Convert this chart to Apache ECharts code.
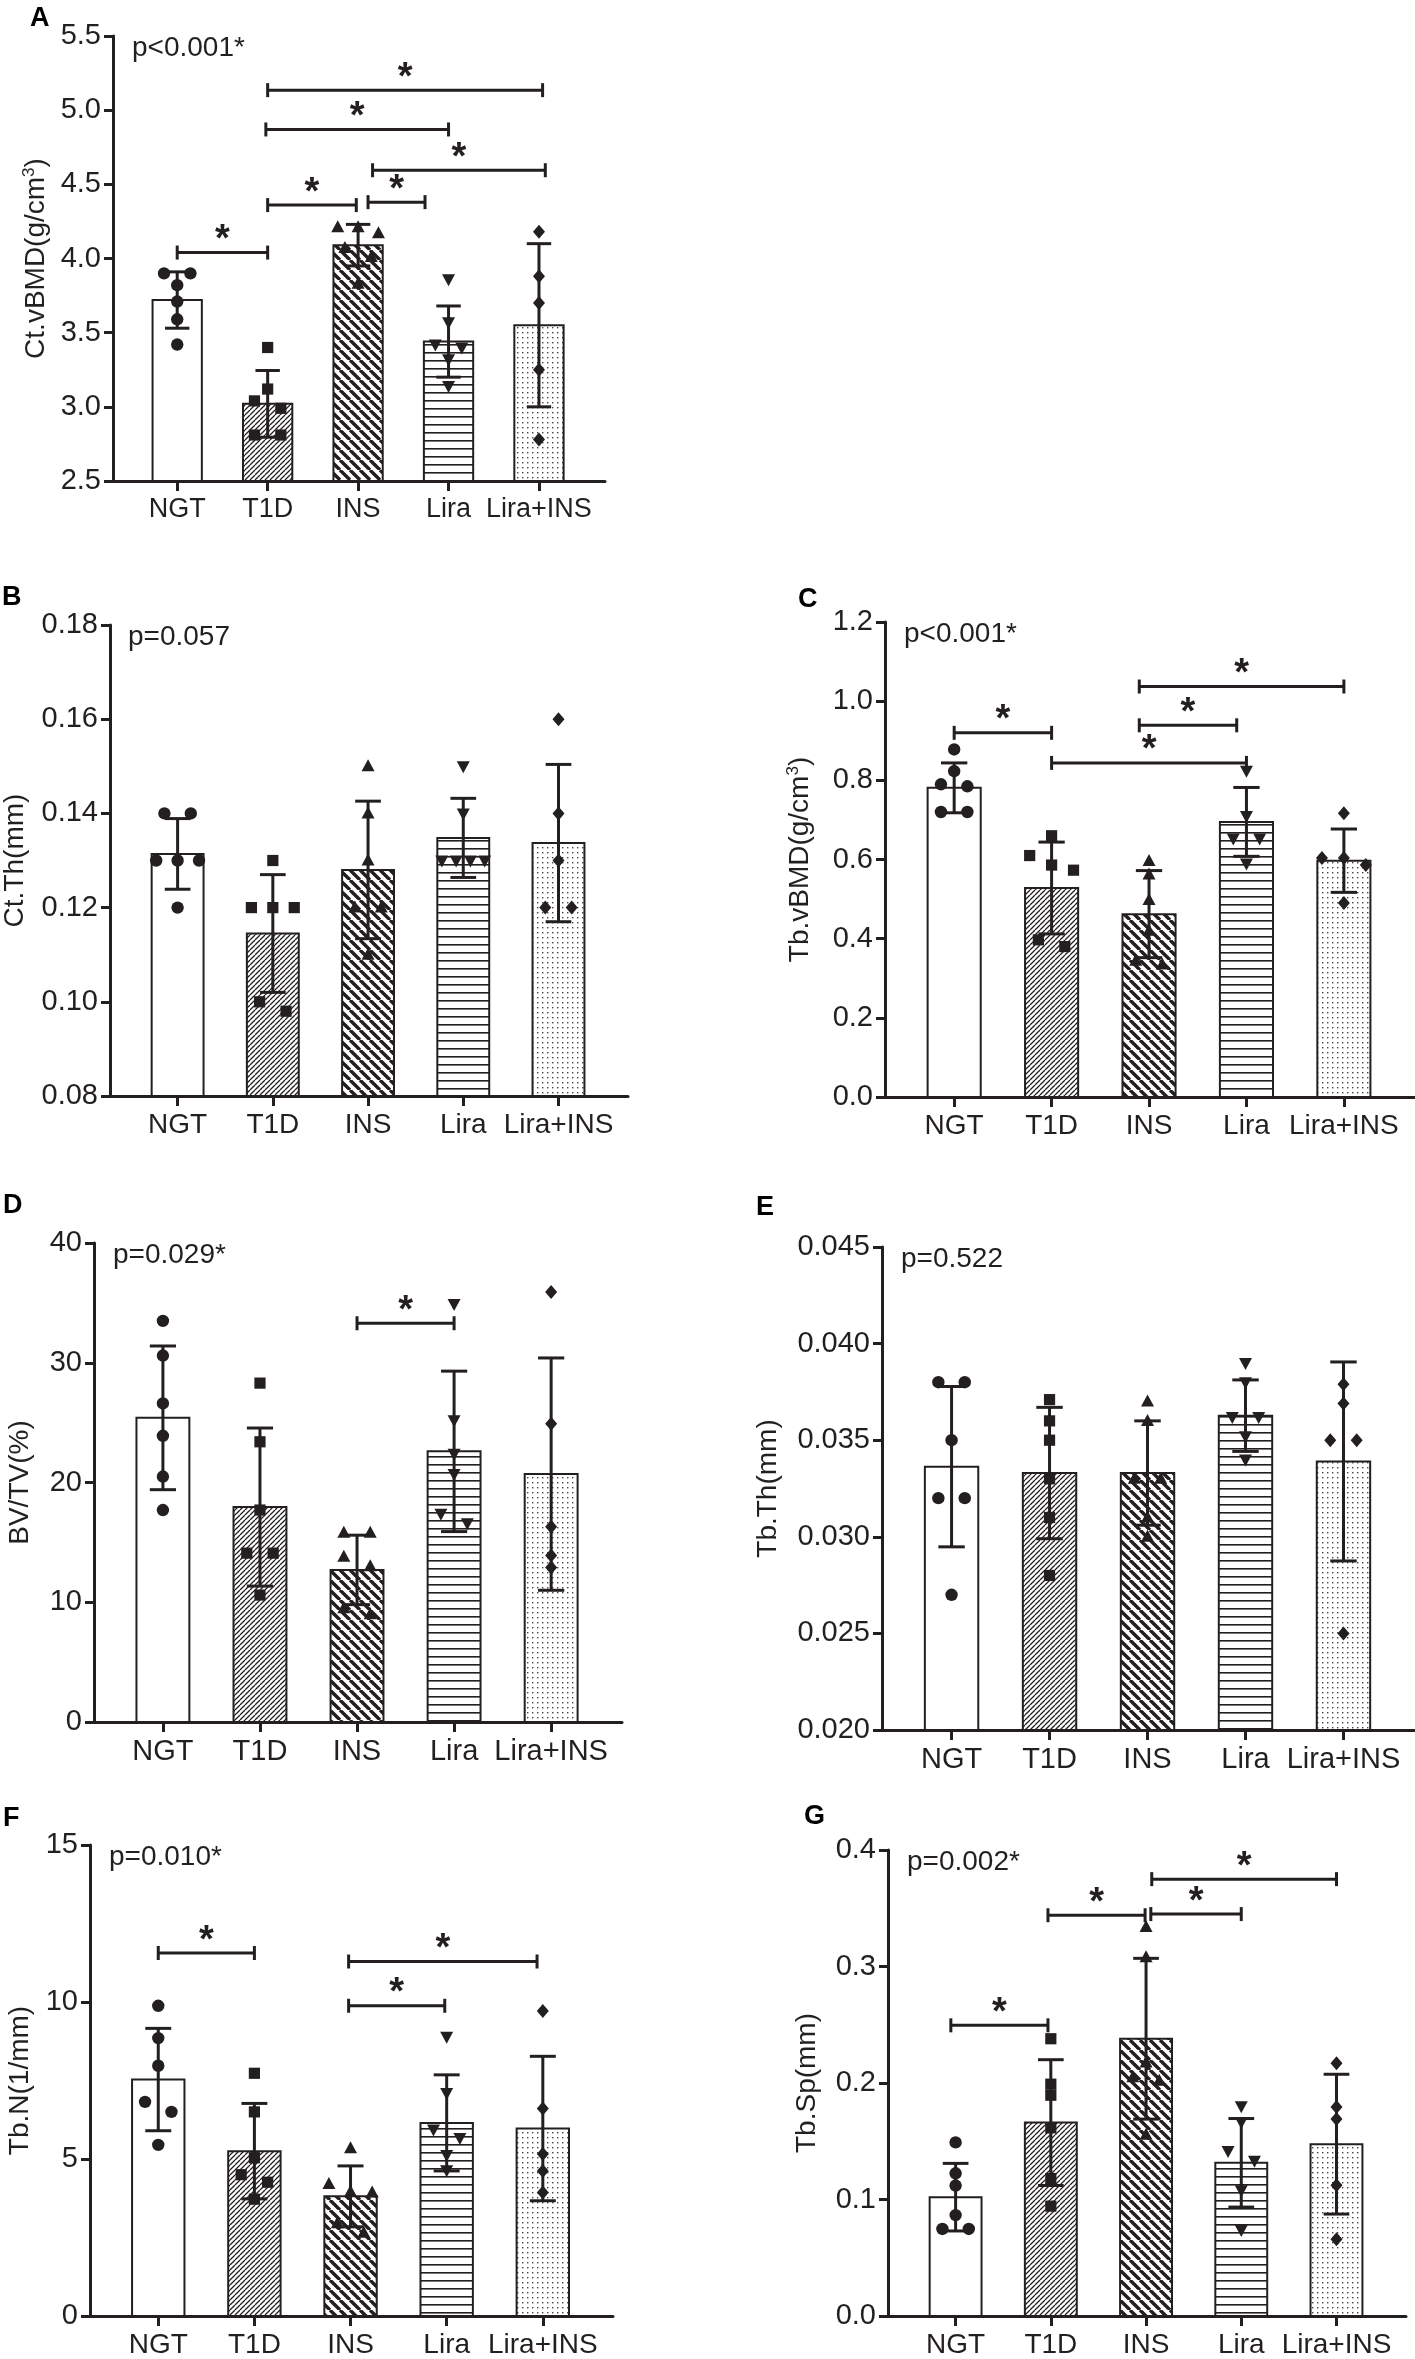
<!DOCTYPE html>
<html>
<head>
<meta charset="utf-8">
<title>Bone parameters by group</title>
<script src="https://cdn.jsdelivr.net/npm/echarts@6/dist/echarts.min.js"></script>
<style>
  html, body { margin: 0; padding: 0; background: #fff; }
  #chart { width: 1415px; height: 2359px; }
</style>
</head>
<body>
<div id="chart"></div>
<script>
// groups on the x axis
var groups = ['NGT', 'T1D', 'INS', 'Lira', 'Lira+INS'];

// A: Ct.vBMD
var ctVbmdTicks = [2.5, 3.0, 3.5, 4.0, 4.5, 5.0, 5.5];
var ctVbmdMean = [3.72, 3.02, 4.09, 3.44, 3.55];
var ctVbmdSd = [0.19, 0.225, 0.14, 0.24, 0.55];
var ctVbmdPoints = [
    [3.90, 3.90, 3.82, 3.71, 3.59, 3.42],
    [3.40, 3.12, 3.04, 2.99, 2.81, 2.81],
    [4.21, 4.21, 4.17, 4.07, 4.01, 3.83],
    [3.86, 3.57, 3.42, 3.40, 3.32, 3.14],
    [4.18, 3.88, 3.70, 3.25, 2.78]
];
var ctVbmdSig = [[0, 1, 4.04], [1, 1.98, 4.36], [2.11, 2.74, 4.38], [2.16, 4.07, 4.595], [0.98, 3.0, 4.87], [1, 4.04, 5.135]];

// B: Ct.Th
var ctThTicks = [0.08, 0.10, 0.12, 0.14, 0.16, 0.18];
var ctThMean = [0.1314, 0.1145, 0.128, 0.1348, 0.1337];
var ctThSd = [0.0075, 0.0125, 0.0146, 0.0084, 0.0167];
var ctThPoints = [
    [0.140, 0.140, 0.130, 0.130, 0.130, 0.120],
    [0.130, 0.120, 0.120, 0.120, 0.100, 0.098],
    [0.150, 0.140, 0.130, 0.120, 0.120, 0.110],
    [0.150, 0.140, 0.130, 0.130, 0.130, 0.130],
    [0.160, 0.140, 0.130, 0.120, 0.120]
];
var ctThSig = [];

// C: Tb.vBMD
var tbVbmdTicks = [0.0, 0.2, 0.4, 0.6, 0.8, 1.0, 1.2];
var tbVbmdMean = [0.781, 0.528, 0.462, 0.695, 0.597];
var tbVbmdSd = [0.063, 0.116, 0.11, 0.087, 0.08];
var tbVbmdPoints = [
    [0.878, 0.823, 0.79, 0.785, 0.72, 0.72],
    [0.66, 0.61, 0.586, 0.573, 0.397, 0.38],
    [0.596, 0.562, 0.498, 0.42, 0.344, 0.335],
    [0.824, 0.71, 0.653, 0.653, 0.59],
    [0.717, 0.604, 0.604, 0.586, 0.49]
];
var tbVbmdSig = [[0, 1, 0.92], [1, 3, 0.844], [1.9, 2.9, 0.939], [1.9, 4, 1.037]];

// D: BV/TV
var bvTvTicks = [0, 10, 20, 30, 40];
var bvTvMean = [25.4, 17.95, 12.7, 22.6, 20.7];
var bvTvSd = [6.0, 6.6, 2.9, 6.7, 9.7];
var bvTvPoints = [
    [33.5, 30.6, 26.6, 23.9, 20.5, 17.7],
    [28.3, 23.4, 17.7, 14.1, 14.1, 10.6],
    [15.8, 15.8, 13.8, 13.0, 9.5, 9.0],
    [34.9, 25.2, 22.4, 20.7, 17.4, 16.6],
    [35.9, 24.9, 16.3, 13.9, 12.9]
];
var bvTvSig = [[2, 3, 33.3]];

// E: Tb.Th
var tbThTicks = [0.020, 0.025, 0.030, 0.035, 0.040, 0.045];
var tbThMean = [0.03363, 0.0333, 0.0333, 0.03627, 0.0339];
var tbThSd = [0.00415, 0.0034, 0.0027, 0.00185, 0.00515];
var tbThPoints = [
    [0.038, 0.038, 0.035, 0.032, 0.032, 0.027],
    [0.0371, 0.036, 0.035, 0.033, 0.031, 0.028],
    [0.037, 0.036, 0.033, 0.033, 0.031, 0.030],
    [0.0390, 0.0380, 0.0362, 0.0362, 0.0352, 0.0340],
    [0.0379, 0.0369, 0.035, 0.035, 0.025]
];
var tbThSig = [];

// F: Tb.N
var tbNTicks = [0, 5, 10, 15];
var tbNMean = [7.53, 5.25, 3.81, 6.15, 5.97];
var tbNSd = [1.63, 1.52, 0.97, 1.53, 2.3];
var tbNPoints = [
    [9.88, 8.85, 7.97, 6.82, 6.5, 5.45],
    [7.73, 6.5, 5.04, 4.5, 4.26, 3.72],
    [5.34, 4.2, 3.96, 3.93, 2.95, 2.65],
    [8.89, 7.1, 5.94, 5.67, 5.13, 4.64],
    [9.71, 6.61, 5.16, 4.62, 3.93]
];
var tbNSig = [[0, 1, 11.56], [1.98, 2.98, 9.88], [1.98, 3.94, 11.29]];

// G: Tb.Sp
var tbSpTicks = [0.0, 0.1, 0.2, 0.3, 0.4];
var tbSpMean = [0.102, 0.166, 0.238, 0.1315, 0.1475];
var tbSpSd = [0.029, 0.054, 0.069, 0.038, 0.06];
var tbSpPoints = [
    [0.149, 0.1225, 0.112, 0.0866, 0.0747, 0.0747],
    [0.238, 0.199, 0.1895, 0.1615, 0.118, 0.0943],
    [0.334, 0.308, 0.2175, 0.205, 0.202, 0.1555],
    [0.180, 0.1665, 0.1417, 0.1333, 0.108, 0.0738],
    [0.217, 0.1795, 0.169, 0.1122, 0.0658]
];
var tbSpSig = [[-0.05, 0.97, 0.2495], [0.97, 1.99, 0.344], [2.05, 3, 0.345], [2.06, 4, 0.375]];

var FONT = '"Liberation Sans", Arial, sans-serif';
var INK = '#231f20';

// hatch fills like the print version
function makePattern(kind) {
    var c = document.createElement('canvas');
    var ctx = c.getContext('2d');
    var s;
    if (kind === 'fine' || kind === 'bold') {
        s = kind === 'fine' ? 5 : 10;
        c.width = s; c.height = s;
        ctx.fillStyle = '#fff';
        ctx.fillRect(0, 0, s, s);
        ctx.strokeStyle = INK;
        ctx.lineWidth = kind === 'fine' ? 1.3 : 3.4;
        ctx.beginPath();
        for (var k = -1; k <= 1; k++) {
            if (kind === 'fine') {
                ctx.moveTo(k * s, s); ctx.lineTo(k * s + s, 0);
            } else {
                ctx.moveTo(k * s, 0); ctx.lineTo(k * s + s, s);
            }
        }
        ctx.stroke();
    } else if (kind === 'hline') {
        c.width = 4; c.height = 8;
        ctx.fillStyle = '#fff';
        ctx.fillRect(0, 0, 4, 8);
        ctx.fillStyle = INK;
        ctx.fillRect(0, 0, 4, 1.6);
    } else {
        c.width = 5; c.height = 5;
        ctx.fillStyle = '#fff';
        ctx.fillRect(0, 0, 5, 5);
        ctx.fillStyle = '#444';
        ctx.fillRect(2, 2, 1.4, 1.4);
    }
    return { image: c, repeat: 'repeat' };
}

var fills = ['#ffffff', makePattern('fine'), makePattern('bold'), makePattern('hline'), makePattern('dots')];
var markers = ['circle', 'square', 'triangle', 'down', 'diamond'];

var panels = [
    { letter: 'A', p: 'p<0.001*', name: 'Ct.vBMD(g/cm{sup|3})', ticks: ctVbmdTicks, digits: 1,
      mean: ctVbmdMean, sd: ctVbmdSd, points: ctVbmdPoints, sig: ctVbmdSig,
      box: [113, 36, 492, 445], gap: 62, catSize: 27, letterAt: [30, 5] },
    { letter: 'B', p: 'p=0.057', name: 'Ct.Th(mm)', ticks: ctThTicks, digits: 2,
      mean: ctThMean, sd: ctThSd, points: ctThPoints, sig: ctThSig,
      box: [109, 625, 519, 471], gap: 81, catSize: 28, letterAt: [2, 584] },
    { letter: 'C', p: 'p<0.001*', name: 'Tb.vBMD(g/cm{sup|3})', ticks: tbVbmdTicks, digits: 1,
      mean: tbVbmdMean, sd: tbVbmdSd, points: tbVbmdPoints, sig: tbVbmdSig,
      box: [885, 622, 530, 475], gap: 70, catSize: 28, letterAt: [798, 586] },
    { letter: 'D', p: 'p=0.029*', name: 'BV/TV(%)', ticks: bvTvTicks, digits: 0,
      mean: bvTvMean, sd: bvTvSd, points: bvTvPoints, sig: bvTvSig,
      box: [94, 1243, 528, 479], gap: 60, catSize: 29, letterAt: [3, 1192] },
    { letter: 'E', p: 'p=0.522', name: 'Tb.Th(mm)', ticks: tbThTicks, digits: 3,
      mean: tbThMean, sd: tbThSd, points: tbThPoints, sig: tbThSig,
      box: [882, 1247, 533, 483], gap: 100, catSize: 29, letterAt: [756, 1194] },
    { letter: 'F', p: 'p=0.010*', name: 'Tb.N(1/mm)', ticks: tbNTicks, digits: 0,
      mean: tbNMean, sd: tbNSd, points: tbNPoints, sig: tbNSig,
      box: [90, 1845, 523, 475], gap: 56, catSize: 28, letterAt: [3, 1805] },
    { letter: 'G', p: 'p=0.002*', name: 'Tb.Sp(mm)', ticks: tbSpTicks, digits: 1,
      mean: tbSpMean, sd: tbSpSd, points: tbSpPoints, sig: tbSpSig,
      box: [888, 1850, 518, 471], gap: 67, catSize: 28, letterAt: [804, 1803] }
];

// spread overlapping dots sideways, like a column scatter
function spread(ys, size, maxSpan) {
    var order = ys.map(function (y, i) { return i; }).sort(function (a, b) { return ys[a] - ys[b]; });
    var offs = ys.map(function () { return 0; });
    var i = 0;
    while (i < order.length) {
        var j = i + 1;
        while (j < order.length && ys[order[j]] - ys[order[j - 1]] < size * 0.9) j++;
        var n = j - i;
        if (n > 1) {
            var step = Math.min(size * 2.2, maxSpan / (n - 1));
            for (var k = i; k < j; k++) offs[order[k]] = (k - i - (n - 1) / 2) * step;
        }
        i = j;
    }
    return offs;
}

function marker(shape, cx, cy) {
    var st = { fill: INK };
    if (shape === 'circle') return { type: 'circle', shape: { cx: cx, cy: cy, r: 6.2 }, style: st };
    if (shape === 'square') return { type: 'rect', shape: { x: cx - 5.6, y: cy - 5.6, width: 11.2, height: 11.2 }, style: st };
    var pts;
    if (shape === 'triangle') pts = [[cx, cy - 7], [cx + 6.5, cy + 5], [cx - 6.5, cy + 5]];
    else if (shape === 'down') pts = [[cx, cy + 7], [cx + 6.5, cy - 5], [cx - 6.5, cy - 5]];
    else pts = [[cx, cy - 7], [cx + 6, cy], [cx, cy + 7], [cx - 6, cy]];
    return { type: 'polygon', shape: { points: pts }, style: st };
}

var option = { animation: false, backgroundColor: '#fff', grid: [], xAxis: [], yAxis: [], series: [], graphic: [] };

panels.forEach(function (p, i) {
    option.grid.push({ left: p.box[0], top: p.box[1], width: p.box[2], height: p.box[3] });
    option.xAxis.push({
        gridIndex: i, type: 'value', min: -0.71, max: 4.73,
        axisLine: { show: true, onZero: false, lineStyle: { color: INK, width: 3 } },
        axisTick: { show: true, customValues: [0, 1, 2, 3, 4], length: 10, lineStyle: { color: INK, width: 3 } },
        axisLabel: {
            customValues: [0, 1, 2, 3, 4], margin: 15, color: INK, fontFamily: FONT, fontSize: p.catSize,
            formatter: function (v) { return groups[Math.round(v)]; }
        },
        splitLine: { show: false }
    });
    option.yAxis.push({
        gridIndex: i, type: 'value', min: p.ticks[0], max: p.ticks[p.ticks.length - 1],
        name: p.name, nameLocation: 'middle', nameGap: p.gap,
        nameTextStyle: {
            color: INK, fontFamily: FONT, fontSize: 28,
            rich: { sup: { fontSize: 17, fontFamily: FONT, color: INK, verticalAlign: 'top', lineHeight: 30 } }
        },
        axisLine: { show: true, onZero: false, lineStyle: { color: INK, width: 3 } },
        axisTick: { show: true, customValues: p.ticks, length: 9, lineStyle: { color: INK, width: 3 } },
        axisLabel: {
            customValues: p.ticks, margin: 12, color: INK, fontFamily: FONT, fontSize: 29,
            formatter: function (v) { return v.toFixed(p.digits); }
        },
        splitLine: { show: false }
    });

    // bars
    option.series.push({
        type: 'custom', xAxisIndex: i, yAxisIndex: i, z: 1,
        data: p.mean.map(function (m, k) { return [k, m]; }),
        renderItem: function (params, api) {
            var k = api.value(0);
            var top = api.coord([k, api.value(1)]);
            var base = api.coord([k, p.ticks[0]]);
            var w = api.size([1, 0])[0] * 0.545;
            return {
                type: 'rect',
                shape: { x: top[0] - w / 2, y: top[1], width: w, height: base[1] - top[1] },
                style: { fill: fills[k], stroke: INK, lineWidth: 2 }
            };
        }
    });

    // mean +/- SD
    option.series.push({
        type: 'custom', xAxisIndex: i, yAxisIndex: i, z: 3,
        data: p.mean.map(function (m, k) { return [k, m, p.sd[k]]; }),
        renderItem: function (params, api) {
            var k = api.value(0), m = api.value(1), s = api.value(2);
            var hi = api.coord([k, m + s]);
            var lo = api.coord([k, m - s]);
            var half = api.size([1, 0])[0] * 0.135;
            var st = { stroke: INK, lineWidth: 3 };
            return {
                type: 'group', children: [
                    { type: 'line', shape: { x1: hi[0], y1: hi[1], x2: lo[0], y2: lo[1] }, style: st },
                    { type: 'line', shape: { x1: hi[0] - half, y1: hi[1], x2: hi[0] + half, y2: hi[1] }, style: st },
                    { type: 'line', shape: { x1: lo[0] - half, y1: lo[1], x2: lo[0] + half, y2: lo[1] }, style: st }
                ]
            };
        }
    });

    // individual animals
    var pts = [];
    p.points.forEach(function (list, k) {
        list.forEach(function (v, j) { pts.push([k, v, j]); });
    });
    option.series.push({
        type: 'custom', xAxisIndex: i, yAxisIndex: i, z: 4,
        data: pts,
        renderItem: function (params, api) {
            var k = api.value(0), j = api.value(2);
            var band = api.size([1, 0])[0];
            var ys = p.points[k].map(function (v) { return api.coord([k, v])[1]; });
            var offs = spread(ys, 12, band * 0.45);
            var c = api.coord([k, api.value(1)]);
            return marker(markers[k], c[0] + offs[j], c[1]);
        }
    });

    // significance brackets
    if (p.sig.length) {
        option.series.push({
            type: 'custom', xAxisIndex: i, yAxisIndex: i, z: 5,
            data: p.sig,
            renderItem: function (params, api) {
                var a = api.coord([api.value(0), api.value(2)]);
                var b = api.coord([api.value(1), api.value(2)]);
                var st = { stroke: INK, lineWidth: 3 };
                return {
                    type: 'group', children: [
                        { type: 'line', shape: { x1: a[0], y1: a[1], x2: b[0], y2: b[1] }, style: st },
                        { type: 'line', shape: { x1: a[0], y1: a[1] - 7, x2: a[0], y2: a[1] + 7 }, style: st },
                        { type: 'line', shape: { x1: b[0], y1: b[1] - 7, x2: b[0], y2: b[1] + 7 }, style: st },
                        {
                            type: 'text', x: (a[0] + b[0]) / 2, y: a[1] - 12,
                            style: { text: '*', font: 'bold 38px ' + FONT, fill: INK, align: 'center', verticalAlign: 'middle' }
                        }
                    ]
                };
            }
        });
    }

    option.graphic.push({
        type: 'text', left: p.letterAt[0], top: p.letterAt[1],
        style: { text: p.letter, font: 'bold 27px ' + FONT, fill: '#000' }
    });
    option.graphic.push({
        type: 'text', left: p.box[0] + 19, top: p.box[1] - 2,
        style: { text: p.p, font: '28px ' + FONT, fill: INK }
    });
});

var chart = echarts.init(document.getElementById('chart'));
chart.setOption(option);
</script>
</body>
</html>
